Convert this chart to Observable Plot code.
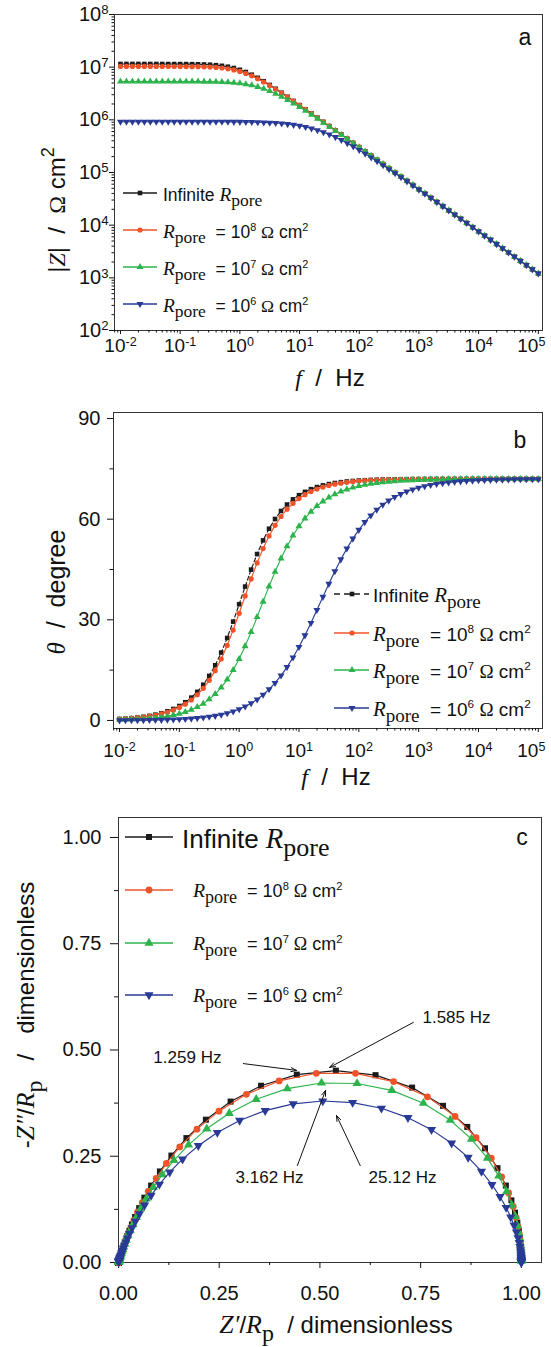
<!DOCTYPE html>
<html>
<head>
<meta charset="utf-8">
<script src="https://cdn.jsdelivr.net/npm/d3@7"></script>
<script src="https://cdn.jsdelivr.net/npm/@observablehq/plot@0.6"></script>
<style>
html,body{margin:0;padding:0;background:#fff;}
#wrap{position:relative;width:551px;height:1347px;overflow:hidden;background:#fff;font-family:"Liberation Sans",Arial,Helvetica,sans-serif;color:#111;}
.abs{position:absolute;white-space:nowrap;}
.serif{font-family:"Liberation Serif","Times New Roman",serif;}
.sup{font-size:0.62em;position:relative;top:-0.62em;}
.sub{position:relative;top:0.32em;}
</style>
</head>
<body>
<div id="wrap"></div>
<script>
// ================= DATA =================
const freq = [0.01,0.01259,0.01585,0.01995,0.02512,0.03162,0.03981,0.05012,0.0631,0.07943,
 0.1,0.1259,0.1585,0.1995,0.2512,0.3162,0.3981,0.5012,0.631,0.7943,
 1,1.259,1.585,1.995,2.512,3.162,3.981,5.012,6.31,7.943,
 10,12.59,15.85,19.95,25.12,31.62,39.81,50.12,63.1,79.43,
 100,125.9,158.5,199.5,251.2,316.2,398.1,501.2,631,794.3,
 1000,1259,1585,1995,2512,3162,3981,5012,6310,7943,
 10000,12590,15850,19950,25120,31620,39810,50120,63100,79430,
 100000];

// |Z| / ohm cm^2
const zInf = [1.150e7,1.150e7,1.150e7,1.150e7,1.150e7,1.1495e7,1.1493e7,1.149e7,1.148e7,1.147e7,
 1.1459e7,1.1436e7,1.1399e7,1.1341e7,1.1252e7,1.1115e7,1.0910e7,1.0610e7,1.0188e7,9.625e6,
 8.918e6,8.090e6,7.193e6,6.280e6,5.403e6,4.599e6,3.885e6,3.263e6,2.732e6,2.281e6,
 1.902e6,1.585e6,1.320e6,1.098e6,9.139e5,7.603e5,6.326e5,5.262e5,4.378e5,3.641e5,
 3.029e5,2.520e5,2.096e5,1.743e5,1.450e5,1.206e5,1.003e5,8.343e4,6.939e4,5.772e4,
 4.801e4,3.993e4,3.321e4,2.763e4,2.298e4,1.911e4,1.590e4,1.322e4,1.100e4,9.148e3,
 7.609e3,6.329e3,5.264e3,4.379e3,3.642e3,3.029e3,2.520e3,2.096e3,1.743e3,1.450e3,
 1.206e3];
const zR8 = [1.0314e7,1.0314e7,1.0314e7,1.0313e7,1.0312e7,1.0311e7,1.0309e7,1.0306e7,1.0302e7,1.0295e7,
 1.0284e7,1.0266e7,1.0239e7,1.0196e7,1.0130e7,1.0027e7,9.873e6,9.644e6,9.317e6,8.872e6,
 8.299e6,7.608e6,6.837e6,6.028e6,5.231e6,4.484e6,3.809e6,3.213e6,2.699e6,2.260e6,
 1.888e6,1.575e6,1.313e6,1.094e6,9.110e5,7.584e5,6.313e5,5.253e5,4.371e5,3.637e5,
 3.026e5,2.518e5,2.094e5,1.742e5,1.449e5,1.206e5,1.003e5,8.343e4,6.939e4,5.772e4,
 4.801e4,3.993e4,3.321e4,2.763e4,2.298e4,1.911e4,1.590e4,1.322e4,1.100e4,9.148e3,
 7.609e3,6.329e3,5.264e3,4.379e3,3.642e3,3.029e3,2.520e3,2.096e3,1.743e3,1.450e3,
 1.206e3];
const zR7 = [5.349e6,5.349e6,5.349e6,5.349e6,5.349e6,5.348e6,5.348e6,5.348e6,5.347e6,5.346e6,
 5.344e6,5.341e6,5.336e6,5.329e6,5.317e6,5.299e6,5.272e6,5.229e6,5.165e6,5.071e6,
 4.937e6,4.754e6,4.517e6,4.226e6,3.887e6,3.517e6,3.132e6,2.750e6,2.386e6,2.050e6,
 1.748e6,1.482e6,1.2513e6,1.0526e6,8.832e5,7.397e5,6.187e5,5.167e5,4.313e5,3.597e5,
 2.999e5,2.499e5,2.0815e5,1.733e5,1.443e5,1.2014e5,9.999e4,8.321e4,6.924e4,5.762e4,
 4.794e4,3.988e4,3.318e4,2.761e4,2.296e4,1.910e4,1.589e4,1.322e4,1.100e4,9.145e3,
 7.607e3,6.328e3,5.263e3,4.378e3,3.642e3,3.029e3,2.520e3,2.096e3,1.743e3,1.450e3,
 1.206e3];
const zR6 = [9.2e5,9.2e5,9.2e5,9.2e5,9.2e5,9.2e5,9.2e5,9.2e5,9.2e5,9.199e5,
 9.199e5,9.199e5,9.198e5,9.197e5,9.196e5,9.193e5,9.189e5,9.183e5,9.174e5,9.160e5,
 9.140e5,9.110e5,9.068e5,9.010e5,8.932e5,8.828e5,8.693e5,8.520e5,8.302e5,8.032e5,
 7.705e5,7.316e5,6.870e5,6.369e5,5.829e5,5.264e5,4.694e5,4.136e5,3.606e5,3.117e5,
 2.673e5,2.279e5,1.933e5,1.633e5,1.3751e5,1.1553e5,9.685e4,8.108e4,6.779e4,5.662e4,
 4.726e4,3.942e4,3.286e4,2.738e4,2.281e4,1.900e4,1.582e4,1.317e4,1.096e4,9.122e3,
 7.591e3,6.316e3,5.255e3,4.372e3,3.638e3,3.026e3,2.518e3,2.094e3,1.742e3,1.449e3,
 1.2055e3];

// theta / degree
const thInf = [0.43,0.54,0.69,0.86,1.09,1.37,1.72,2.16,2.72,3.43,
 4.31,5.42,6.80,8.52,10.66,13.28,16.45,20.23,24.59,29.46,
 34.64,39.91,44.96,49.60,53.68,57.15,60.06,62.44,64.36,65.91,
 67.16,68.15,68.94,69.57,70.07,70.46,70.78,71.03,71.23,71.39,
 71.51,71.61,71.69,71.76,71.81,71.85,71.88,71.90,71.92,71.94,
 71.95,71.96,71.97,71.98,71.98,71.98,71.99,71.99,71.99,71.99,
 72.0,72.0,72.0,72.0,72.0,72.0,72.0,72.0,72.0,72.0,
 72.0];
const thR8 = [0.39,0.49,0.61,0.77,0.97,1.23,1.54,1.94,2.44,3.07,
 3.87,4.86,6.10,7.66,9.58,11.96,14.85,18.32,22.37,26.95,
 31.94,37.11,42.19,46.97,51.25,55.00,58.16,60.80,62.97,64.73,
 66.15,67.30,68.23,68.98,69.57,70.06,70.44,70.74,70.99,71.19,
 71.35,71.48,71.58,71.66,71.73,71.78,71.82,71.86,71.89,71.91,
 71.93,71.94,71.95,71.96,71.97,71.98,71.98,71.98,71.99,71.99,
 71.99,71.99,72.0,72.0,72.0,72.0,72.0,72.0,72.0,72.0,
 72.0];
const thR7 = [0.20,0.25,0.32,0.40,0.51,0.64,0.80,1.01,1.27,1.60,
 2.01,2.53,3.18,3.99,5.01,6.29,7.87,9.81,12.18,15.02,
 18.34,22.15,26.34,30.83,35.42,39.97,44.31,48.32,51.94,55.13,
 57.88,60.23,62.23,63.90,65.30,66.47,67.43,68.23,68.89,69.43,
 69.88,70.25,70.56,70.81,71.02,71.19,71.33,71.45,71.55,71.62,
 71.69,71.74,71.79,71.83,71.86,71.88,71.90,71.92,71.93,71.94,
 71.95,71.96,71.97,71.98,71.98,71.98,71.99,71.99,71.99,71.99,
 71.99];
const thR6 = [0.03,0.04,0.05,0.07,0.09,0.11,0.14,0.17,0.22,0.27,
 0.35,0.43,0.55,0.69,0.87,1.09,1.37,1.71,2.15,2.68,
 3.34,4.14,5.11,6.27,7.65,9.28,11.18,13.38,15.90,18.75,
 21.92,25.37,29.07,32.92,36.84,40.72,44.47,48.01,51.26,54.21,
 56.82,59.12,61.12,62.83,64.30,65.54,66.60,67.48,68.23,68.85,
 69.37,69.81,70.18,70.48,70.73,70.95,71.12,71.27,71.39,71.50,
 71.58,71.65,71.71,71.76,71.80,71.83,71.86,71.89,71.91,71.92,
 71.93];

// Z'/Rp and -Z''/Rp (dimensionless)
const reInf = [1.000,1.000,1.000,1.000,0.9996,0.9993,0.9989,0.9984,0.9975,0.9960,
 0.9937,0.9900,0.9842,0.9753,0.9615,0.9407,0.9098,0.8657,0.8056,0.7288,
 0.6380,0.5396,0.4426,0.3539,0.2783,0.2169,0.1686,0.1313,0.1028,0.0810,
 0.0642,0.0513,0.0412,0.0333,0.0271,0.0221,0.0181,0.0149,0.0123,0.0101,
 0.0084,0.0069,0.0057,0.0047,0.0039,0.0033,0.0027,0.0023,0.0019,0.0016,
 0.0013,0.0011,0.0009,0.0008,0.0006,0.0005,0.0004,0.0004,0.0003,0.0003,
 0.0002,0.0002,0.0001,0.0001,0.0001,0.0001,0.0001,0.0001,0.0001,0.0000,
 0.0000];
const imInf = [0.0075,0.0095,0.0120,0.0150,0.0189,0.0238,0.0300,0.0377,0.0474,0.0596,
 0.0748,0.0938,0.1173,0.1462,0.1810,0.2220,0.2687,0.3190,0.3686,0.4115,
 0.4408,0.4514,0.4420,0.4159,0.3786,0.3360,0.2927,0.2516,0.2142,0.1811,
 0.1525,0.1279,0.1071,0.0895,0.0747,0.0623,0.0519,0.0433,0.0360,0.0300,
 0.0250,0.0208,0.0173,0.0144,0.0120,0.0100,0.0083,0.0069,0.0057,0.0048,
 0.0040,0.0033,0.0027,0.0023,0.0019,0.0016,0.0013,0.0011,0.0009,0.0008,
 0.0006,0.0005,0.0004,0.0004,0.0003,0.0003,0.0002,0.0002,0.0001,0.0001,
 0.0001];
const reR8 = [1.000,1.000,1.000,1.000,0.9997,0.9995,0.9992,0.9987,0.9979,0.9968,
 0.9948,0.9918,0.9871,0.9798,0.9684,0.9511,0.9253,0.8876,0.8354,0.7668,
 0.6829,0.5883,0.4911,0.3988,0.3174,0.2494,0.1948,0.1520,0.1189,0.0935,
 0.0740,0.0589,0.0472,0.0381,0.0308,0.0251,0.0205,0.0168,0.0138,0.0114,
 0.0094,0.0078,0.0064,0.0053,0.0044,0.0037,0.0030,0.0025,0.0021,0.0017,
 0.0015,0.0012,0.0010,0.0008,0.0007,0.0006,0.0005,0.0004,0.0003,0.0003,
 0.0002,0.0002,0.0002,0.0001,0.0001,0.0001,0.0001,0.0001,0.0001,0.0000,
 0.0000];
const imR8 = [0.0068,0.0085,0.0107,0.0135,0.0170,0.0214,0.0269,0.0338,0.0426,0.0535,
 0.0672,0.0843,0.1056,0.1317,0.1635,0.2015,0.2453,0.2938,0.3438,0.3899,
 0.4256,0.4451,0.4452,0.4272,0.3956,0.3561,0.3137,0.2720,0.2331,0.1981,
 0.1675,0.1409,0.1183,0.0990,0.0828,0.0691,0.0577,0.0481,0.0401,0.0334,
 0.0278,0.0231,0.0193,0.0160,0.0133,0.0111,0.0092,0.0077,0.0064,0.0053,
 0.0044,0.0037,0.0031,0.0026,0.0021,0.0018,0.0015,0.0012,0.0010,0.0008,
 0.0007,0.0006,0.0005,0.0004,0.0003,0.0003,0.0002,0.0002,0.0002,0.0001,
 0.0001];
const reR7 = [1.000,1.000,1.000,1.000,1.000,0.9999,0.9998,0.9996,0.9994,0.9991,
 0.9985,0.9975,0.9961,0.9938,0.9903,0.9848,0.9763,0.9633,0.9439,0.9157,
 0.8761,0.8233,0.7569,0.6784,0.5922,0.5039,0.4189,0.3418,0.2749,0.2191,
 0.1738,0.1375,0.1090,0.0866,0.0690,0.0552,0.0444,0.0358,0.0290,0.0236,
 0.0193,0.0158,0.0130,0.0107,0.0088,0.0072,0.0058,0.0048,0.0040,0.0033,
 0.0028,0.0023,0.0019,0.0016,0.0013,0.0011,0.0009,0.0008,0.0006,0.0005,
 0.0004,0.0004,0.0003,0.0003,0.0002,0.0002,0.0001,0.0001,0.0001,0.0001,
 0.0001];
const imR7 = [0.0035,0.0044,0.0056,0.0070,0.0088,0.0111,0.0140,0.0176,0.0221,0.0278,
 0.0350,0.0440,0.0553,0.0694,0.0869,0.1085,0.1349,0.1666,0.2037,0.2456,
 0.2905,0.3351,0.3748,0.4049,0.4212,0.4224,0.4090,0.3840,0.3512,0.3145,
 0.2769,0.2405,0.2070,0.1767,0.1500,0.1268,0.1068,0.0897,0.0752,0.0630,
 0.0527,0.0440,0.0367,0.0306,0.0255,0.0213,0.0178,0.0148,0.0123,0.0102,
 0.0085,0.0071,0.0059,0.0049,0.0041,0.0034,0.0028,0.0024,0.0020,0.0016,
 0.0014,0.0011,0.0009,0.0008,0.0007,0.0005,0.0005,0.0004,0.0003,0.0003,
 0.0002];
const reR6 = [1.000,1.000,1.000,1.000,1.000,1.000,1.000,1.000,1.000,0.9999,
 0.9999,0.9999,0.9998,0.9996,0.9994,0.9991,0.9986,0.9977,0.9965,0.9946,
 0.9918,0.9877,0.9818,0.9735,0.9622,0.9470,0.9270,0.9010,0.8679,0.8268,
 0.7770,0.7185,0.6527,0.5812,0.5071,0.4336,0.3641,0.3007,0.2453,0.1981,
 0.1590,0.1271,0.1015,0.0810,0.0648,0.0520,0.0418,0.0338,0.0273,0.0222,
 0.0181,0.0148,0.0121,0.0099,0.0082,0.0067,0.0056,0.0046,0.0038,0.0032,
 0.0026,0.0022,0.0018,0.0015,0.0012,0.0010,0.0009,0.0007,0.0006,0.0005,
 0.0004];
const imR6 = [0.0006,0.0008,0.0010,0.0012,0.0015,0.0019,0.0024,0.0030,0.0038,0.0048,
 0.0060,0.0076,0.0096,0.0120,0.0151,0.0190,0.0238,0.0299,0.0374,0.0466,
 0.0579,0.0715,0.0878,0.1070,0.1293,0.1548,0.1832,0.2144,0.2473,0.2807,
 0.3126,0.3408,0.3628,0.3763,0.3799,0.3733,0.3574,0.3341,0.3058,0.2748,
 0.2432,0.2126,0.1840,0.1579,0.1347,0.1143,0.0966,0.0814,0.0684,0.0574,
 0.0481,0.0402,0.0336,0.0281,0.0234,0.0195,0.0163,0.0136,0.0113,0.0094,
 0.0078,0.0065,0.0054,0.0045,0.0038,0.0031,0.0026,0.0022,0.0018,0.0015,
 0.0013];

const seriesNames = ["Infinite", "1e8", "1e7", "1e6"];
const rporeExps = [8, 7, 6];
const seriesColors = ["#1b1b1b", "#f15329", "#2db34b", "#283a96"];
const xTickExps = [-2, -1, 0, 1, 2, 3, 4, 5];
const yTickExpsA = [2, 3, 4, 5, 6, 7, 8];
const yTicksB = [0, 30, 60, 90];
const yMinorB = [15, 45, 75];
const ticksC = [0, 0.25, 0.5, 0.75, 1];
const minorC = [0.125, 0.375, 0.625, 0.875];
const annLabels = ["1.259 Hz", "1.585 Hz", "3.162 Hz", "25.12 Hz"];
const annTextX = [0.171, 0.839, 0.375, 0.705];
const annTextY = [0.482, 0.576, 0.200, 0.200];
const annFromX = [0.310, 0.732, 0.444, 0.600];
const annFromY = [0.468, 0.565, 0.228, 0.228];
const annToX = [0.442, 0.524, 0.514, 0.541];
const annToY = [0.452, 0.459, 0.405, 0.346];

// ================= BUILD =================
const SANS = '"Liberation Sans", Arial, Helvetica, sans-serif';
const wrap = document.getElementById("wrap");
const Z = [zInf, zR8, zR7, zR6], TH = [thInf, thR8, thR7, thR6];
const RE = [reInf, reR8, reR7, reR6], IM = [imInf, imR8, imR7, imR6];

const triDown = {draw(ctx, size) {
  const s3 = Math.sqrt(3), y = Math.sqrt(size / (s3 * 3));
  ctx.moveTo(0, 2 * y); ctx.lineTo(s3 * y, -y); ctx.lineTo(-s3 * y, -y); ctx.closePath();
}};
const symPlot = ["square", "circle", "triangle", triDown];
const symD3 = [d3.symbolSquare, d3.symbolCircle, d3.symbolTriangle, triDown];

const rows = [];
seriesNames.forEach((s, i) => freq.forEach((f, k) => rows.push({i, s, f, z: Z[i][k], th: TH[i][k], re: RE[i][k], im: IM[i][k]})));

function curveMarks(xk, yk, r, dashInf) {
  const m = [];
  seriesNames.forEach((s, i) => {
    const data = rows.filter(d => d.i === i);
    const lo = {x: xk, y: yk, stroke: seriesColors[i], strokeWidth: 1.15};
    if (dashInf && i === 0) lo.strokeDasharray = "4,2.5";
    m.push(Plot.line(data, lo));
    m.push(Plot.dot(data, {x: xk, y: yk, fill: seriesColors[i], symbol: symPlot[i], r}));
  });
  return m;
}
function minorLog(dom) {
  const v = [];
  for (let e = Math.floor(Math.log10(dom[0])); e <= Math.ceil(Math.log10(dom[1])); e++)
    for (let m = 2; m <= 9; m++) { const t = m * Math.pow(10, e); if (t >= dom[0] && t <= dom[1]) v.push(t); }
  return v;
}
const powFmt = d => "10^" + Math.round(Math.log10(d));
function supify(svg) {
  svg.querySelectorAll("text").forEach(t => {
    const m = /^10\^(-?\d+)$/.exec(t.textContent);
    if (!m) return;
    t.textContent = "10";
    const ts = document.createElementNS("http://www.w3.org/2000/svg", "tspan");
    ts.setAttribute("dy", "-0.5em"); ts.setAttribute("font-size", "0.66em");
    ts.textContent = m[1];
    t.appendChild(ts);
    const g = t.parentNode;
    const lab = (g && g.getAttribute && g.getAttribute("aria-label")) || "";
    // the last x label sits against the right edge: pull it in a little
    if (lab.indexOf("x-axis") >= 0 && m[1] === "5") t.setAttribute("dx", "-7");
  });
}
function place(svg, top) {
  svg.style.position = "absolute"; svg.style.left = "0px"; svg.style.top = top + "px"; svg.style.overflow = "visible";
  wrap.appendChild(svg);
}
const baseStyle = {fontFamily: SANS, fontSize: "20px", color: "#111", background: "transparent"};
const xDomF = [Math.pow(10, -2.1), Math.pow(10, 5.07)];
const xMajor = xTickExps.map(e => Math.pow(10, e));

// ---- panel a ----
const pA = Plot.plot({
  width: 551, height: 400, marginTop: 14, marginBottom: 70, marginLeft: 114, marginRight: 9,
  style: baseStyle,
  x: {type: "log", domain: xDomF, label: null},
  y: {type: "log", domain: [1e2, 1e8], label: null},
  marks: [
    Plot.frame({stroke: "#333", strokeWidth: 1}),
    Plot.axisX({ticks: xMajor, tickFormat: powFmt, tickSize: 4, tickPadding: 4, fontSize: 19, label: null}),
    Plot.axisX({ticks: minorLog(xDomF), tickFormat: () => "", tickSize: 2.5, label: null}),
    Plot.axisY({ticks: yTickExpsA.map(e => Math.pow(10, e)), tickFormat: powFmt, tickSize: 5, tickPadding: 1, fontSize: 20, label: null}),
    Plot.axisY({ticks: minorLog([1e2, 1e8]), tickFormat: () => "", tickSize: 2.5, label: null}),
    ...curveMarks("f", "z", 2.6, false)
  ]
});
supify(pA); place(pA, 0);

// ---- panel b ----
const pB = Plot.plot({
  width: 551, height: 400, marginTop: 12, marginBottom: 72, marginLeft: 113, marginRight: 9,
  style: baseStyle,
  x: {type: "log", domain: xDomF, label: null},
  y: {domain: [-2.4, 91.8], label: null},
  marks: [
    Plot.frame({stroke: "#333", strokeWidth: 1}),
    Plot.axisX({ticks: xMajor, tickFormat: powFmt, tickSize: 4, tickPadding: 11, fontSize: 19, label: null}),
    Plot.axisX({ticks: minorLog(xDomF), tickFormat: () => "", tickSize: 2.5, label: null}),
    Plot.axisY({ticks: yTicksB, tickFormat: d => String(d), tickSize: 6, tickPadding: 7, fontSize: 20, label: null}),
    Plot.axisY({ticks: yMinorB, tickFormat: () => "", tickSize: 3.5, label: null}),
    ...curveMarks("f", "th", 2.6, true)
  ]
});
supify(pB); place(pB, 400);

// ---- panel c ----
const annData = annLabels.map((l, j) => ({l, tx: annTextX[j], ty: annTextY[j], x1: annFromX[j], y1: annFromY[j], x2: annToX[j], y2: annToY[j]}));
const pC = Plot.plot({
  width: 551, height: 547, marginTop: 17, marginBottom: 85, marginLeft: 118, marginRight: 10,
  style: baseStyle,
  x: {domain: [0, 1.05], label: null},
  y: {domain: [0, 1.047], label: null},
  marks: [
    Plot.frame({stroke: "#333", strokeWidth: 1}),
    Plot.axisX({ticks: ticksC, tickFormat: d3.format(".2f"), tickSize: 6, tickPadding: 17, fontSize: 20, label: null}),
    Plot.axisX({ticks: minorC, tickFormat: () => "", tickSize: 3, label: null}),
    Plot.axisY({ticks: ticksC, tickFormat: d3.format(".2f"), tickSize: 8, tickPadding: 9, fontSize: 20, label: null}),
    Plot.axisY({ticks: minorC, tickFormat: () => "", tickSize: 4, label: null}),
    ...curveMarks("re", "im", 3.4, false),
    Plot.arrow(annData, {x1: "x1", y1: "y1", x2: "x2", y2: "y2", stroke: "#111", strokeWidth: 1, headLength: 9, headAngle: 40}),
    Plot.text(annData, {x: "tx", y: "ty", text: "l", fontSize: 17, fill: "#111"})
  ]
});
place(pC, 800);

// ================= HTML overlays: legends, titles, panel letters =================
function addDiv(html, css) {
  const d = document.createElement("div"); d.className = "abs"; d.innerHTML = html;
  Object.assign(d.style, css); wrap.appendChild(d); return d;
}
function centered(html, cx, cy, fs, rot) {
  return addDiv(html, {left: cx + "px", top: cy + "px", fontSize: fs + "px", lineHeight: "1.2",
    transform: "translate(-50%,-50%)" + (rot ? " rotate(-90deg)" : "")});
}
const RP = `<i class="serif" style="font-size:1.1em">R</i><span class="serif sub">pore</span>`;
const lblInf = `Infinite ${RP}`;
const lblVal = e => `${RP}&nbsp;&nbsp;= 10<span class="sup">${e}</span> <span class="serif">Ω</span> cm<span class="sup">2</span>`;

function legendRow(y, x0, x1, xm, i, r, dash, xt, html, fs) {
  const w = x1 - x0 + 12;
  const svg = d3.create("svg").attr("width", w).attr("height", 16)
    .style("position", "absolute").style("left", (x0 - 6) + "px").style("top", (y - 8) + "px").style("overflow", "visible");
  svg.append("line").attr("x1", 6).attr("x2", x1 - x0 + 6).attr("y1", 8).attr("y2", 8)
    .attr("stroke", seriesColors[i]).attr("stroke-width", 1.3).attr("stroke-dasharray", dash ? "6,4" : null);
  svg.append("path").attr("transform", `translate(${xm - x0 + 6},8)`)
    .attr("d", d3.symbol(symD3[i], Math.PI * r * r)()).attr("fill", seriesColors[i]);
  wrap.appendChild(svg.node());
  addDiv(html, {left: xt + "px", top: (y - 0.59 * fs) + "px", fontSize: fs + "px", lineHeight: "1.2"});
}
// panel a legend
const legA = [193, 230, 267, 304];
seriesNames.forEach((s, i) => legendRow(legA[i], 123, 157, 140, i, 2.6, false, 163, i === 0 ? lblInf : lblVal(rporeExps[i - 1]), 17.5));
// panel b legend
const legB = [594, 633, 670, 708];
seriesNames.forEach((s, i) => legendRow(legB[i], 334, 369, 352, i, 2.6, i === 0, 373, i === 0 ? lblInf : lblVal(rporeExps[i - 1]), 19));
// panel c legend
const legC = [837, 890, 943, 995];
seriesNames.forEach((s, i) => legendRow(legC[i], 125, 173, 149, i, 3.4, false, i === 0 ? 182 : 193, i === 0 ? lblInf : lblVal(rporeExps[i - 1]), i === 0 ? 26 : 18));

// axis titles
centered(`<i class="serif">f</i>&nbsp;&nbsp;/&nbsp;&nbsp;Hz`, 330, 378, 24, false);
centered(`<i class="serif">f</i>&nbsp;&nbsp;/&nbsp;&nbsp;Hz`, 336, 777, 24, false);
centered(`<i class="serif" style="font-size:1.08em">Z′</i>/<i class="serif" style="font-size:1.08em">R</i><span class="serif sub">p</span>&nbsp;&nbsp;/ dimensionless`, 336, 1325, 24, false);
centered(`|<i class="serif">Z</i>|&nbsp;&nbsp;/&nbsp;&nbsp;<span class="serif">Ω</span> cm<span class="sup" style="font-size:0.75em">2</span>`, 57, 210, 24, true);
centered(`<i class="serif">θ</i>&nbsp;&nbsp;/&nbsp;&nbsp;degree`, 56, 592, 25, true);
centered(`-<i class="serif" style="font-size:1.08em">Z″</i>/<i class="serif" style="font-size:1.08em">R</i><span class="serif sub">p</span>&nbsp;&nbsp;&nbsp;/&nbsp;&nbsp;&nbsp;dimensionless`, 26, 1015, 24, true);
// panel letters
centered("a", 525, 38, 23, false);
centered("b", 520, 441, 23, false);
centered("c", 522, 838, 23, false);
</script>
</body>
</html>
